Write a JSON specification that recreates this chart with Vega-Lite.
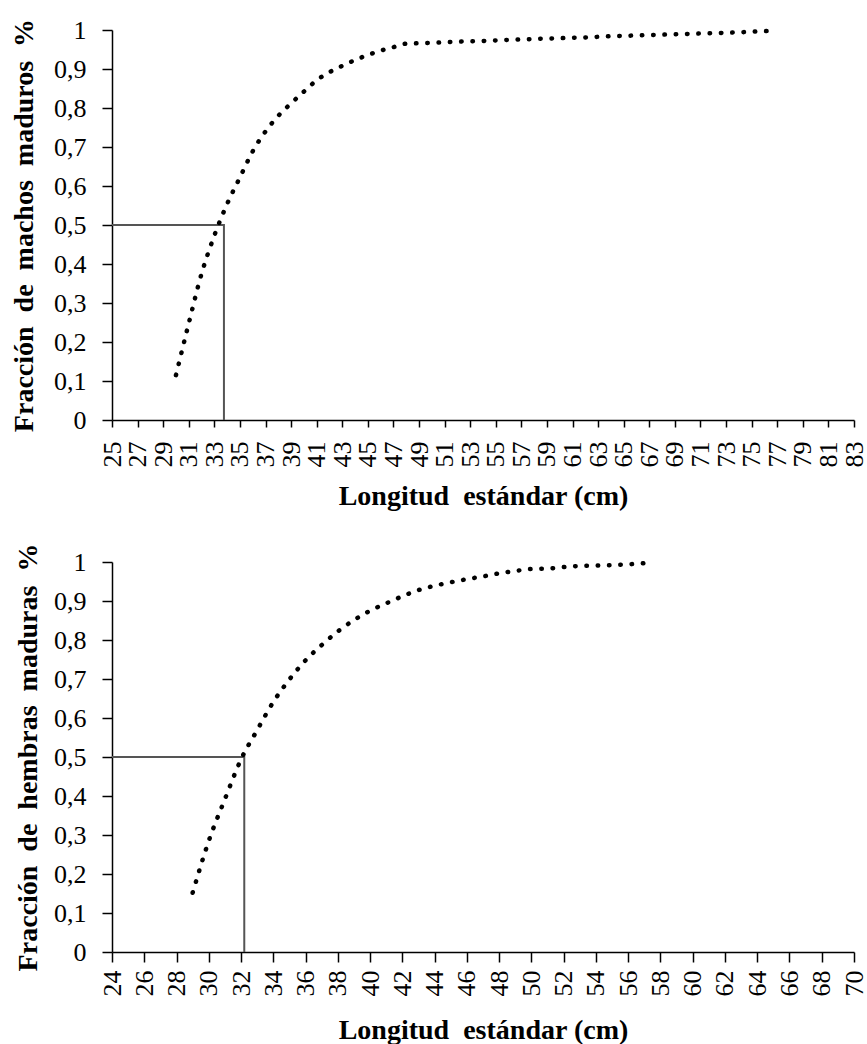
{
  "$schema": "https://vega.github.io/schema/vega-lite/v6.json",
  "padding": {"left": 10, "top": 17, "right": 0, "bottom": 0},
  "spacing": 33,
  "config": {
    "font": "Liberation Serif",
    "view": {"stroke": null},
    "axis": {
      "grid": false,
      "domainColor": "#000000",
      "domainWidth": 1.5,
      "tickColor": "#000000",
      "tickWidth": 1.5,
      "tickSize": 10,
      "labelFont": "Liberation Serif",
      "labelFontSize": 26,
      "labelColor": "#000000",
      "labelOverlap": false,
      "titleFont": "Liberation Serif",
      "titleFontSize": 28,
      "titleFontWeight": "bold",
      "titleColor": "#000000"
    }
  },
  "datasets": {
    "machos": [
      {"longitud": 30, "fraccion": 0.115}, {"longitud": 31, "fraccion": 0.248}, {"longitud": 32, "fraccion": 0.375},
      {"longitud": 33, "fraccion": 0.473}, {"longitud": 34, "fraccion": 0.554}, {"longitud": 35, "fraccion": 0.622},
      {"longitud": 36, "fraccion": 0.689}, {"longitud": 37, "fraccion": 0.74}, {"longitud": 38, "fraccion": 0.78},
      {"longitud": 39, "fraccion": 0.812}, {"longitud": 40, "fraccion": 0.842}, {"longitud": 41, "fraccion": 0.871},
      {"longitud": 42, "fraccion": 0.892}, {"longitud": 43, "fraccion": 0.908}, {"longitud": 44, "fraccion": 0.923},
      {"longitud": 45, "fraccion": 0.936}, {"longitud": 46, "fraccion": 0.947}, {"longitud": 47, "fraccion": 0.956},
      {"longitud": 48, "fraccion": 0.965}, {"longitud": 49, "fraccion": 0.966}, {"longitud": 50, "fraccion": 0.967},
      {"longitud": 52, "fraccion": 0.97}, {"longitud": 54, "fraccion": 0.972}, {"longitud": 56, "fraccion": 0.9745},
      {"longitud": 58, "fraccion": 0.977}, {"longitud": 60, "fraccion": 0.979}, {"longitud": 62, "fraccion": 0.981},
      {"longitud": 64, "fraccion": 0.984}, {"longitud": 66, "fraccion": 0.986}, {"longitud": 68, "fraccion": 0.988},
      {"longitud": 70, "fraccion": 0.99}, {"longitud": 72, "fraccion": 0.992}, {"longitud": 74, "fraccion": 0.994},
      {"longitud": 76, "fraccion": 0.997}, {"longitud": 77, "fraccion": 0.998}
    ],
    "machos_ref": [
      {"orden": 1, "longitud": 25, "fraccion": 0.5},
      {"orden": 2, "longitud": 33.75, "fraccion": 0.5},
      {"orden": 3, "longitud": 33.75, "fraccion": 0}
    ],
    "hembras": [
      {"longitud": 29, "fraccion": 0.152}, {"longitud": 30, "fraccion": 0.285}, {"longitud": 31, "fraccion": 0.392},
      {"longitud": 32, "fraccion": 0.494}, {"longitud": 33, "fraccion": 0.569}, {"longitud": 34, "fraccion": 0.641},
      {"longitud": 35, "fraccion": 0.699}, {"longitud": 36, "fraccion": 0.748}, {"longitud": 37, "fraccion": 0.787},
      {"longitud": 38, "fraccion": 0.822}, {"longitud": 39, "fraccion": 0.851}, {"longitud": 40, "fraccion": 0.875},
      {"longitud": 41, "fraccion": 0.894}, {"longitud": 42, "fraccion": 0.912}, {"longitud": 43, "fraccion": 0.928},
      {"longitud": 44, "fraccion": 0.939}, {"longitud": 45, "fraccion": 0.948}, {"longitud": 46, "fraccion": 0.956},
      {"longitud": 47, "fraccion": 0.963}, {"longitud": 48, "fraccion": 0.971}, {"longitud": 49, "fraccion": 0.977},
      {"longitud": 50, "fraccion": 0.982}, {"longitud": 51, "fraccion": 0.983}, {"longitud": 52, "fraccion": 0.987},
      {"longitud": 53, "fraccion": 0.99}, {"longitud": 54, "fraccion": 0.991}, {"longitud": 55, "fraccion": 0.992},
      {"longitud": 56, "fraccion": 0.994}, {"longitud": 57, "fraccion": 0.997}
    ],
    "hembras_ref": [
      {"orden": 1, "longitud": 24, "fraccion": 0.5},
      {"orden": 2, "longitud": 32.2, "fraccion": 0.5},
      {"orden": 3, "longitud": 32.2, "fraccion": 0}
    ]
  },
  "vconcat": [
    {
      "width": 742,
      "height": 390,
      "encoding": {
        "x": {
          "field": "longitud", "type": "quantitative",
          "scale": {"domain": [25, 83], "nice": false, "zero": false},
          "axis": {
            "title": "Longitud\u00a0\u00a0estándar (cm)",
            "values": [25,27,29,31,33,35,37,39,41,43,45,47,49,51,53,55,57,59,61,63,65,67,69,71,73,75,77,79,81,83],
            "labelAngle": -90,
            "tickSize": 7,
            "labelPadding": 14,
            "titlePadding": 15,
            "labelOverlap": false
          }
        },
        "y": {
          "field": "fraccion", "type": "quantitative",
          "scale": {"domain": [0, 1], "nice": false},
          "axis": {
            "title": "Fracción\u00a0\u00a0de\u00a0\u00a0machos\u00a0\u00a0maduros\u00a0\u00a0%",
            "values": [0,0.1,0.2,0.3,0.4,0.5,0.6,0.7,0.8,0.9,1],
            "format": ".1~f",
            "labelExpr": "replace(datum.label, '.', ',')",
            "labelPadding": 16,
            "titlePadding": 15,
            "labelOverlap": false
          }
        }
      },
      "layer": [
        {
          "data": {"name": "machos_ref"},
          "mark": {"type": "line", "color": "#555555", "strokeWidth": 2},
          "encoding": {"order": {"field": "orden"}}
        },
        {
          "data": {"name": "machos"},
          "mark": {"type": "line", "color": "#000000", "strokeWidth": 4.5, "strokeCap": "round", "strokeDash": [0.5, 10.8], "interpolate": "monotone"},
          "encoding": {}
        }
      ]
    },
    {
      "width": 742,
      "height": 390,
      "encoding": {
        "x": {
          "field": "longitud", "type": "quantitative",
          "scale": {"domain": [24, 70], "nice": false, "zero": false},
          "axis": {
            "title": "Longitud\u00a0\u00a0estándar (cm)",
            "values": [24,26,28,30,32,34,36,38,40,42,44,46,48,50,52,54,56,58,60,62,64,66,68,70],
            "labelAngle": -90,
            "labelPadding": 8,
            "titlePadding": 20,
            "labelOverlap": false
          }
        },
        "y": {
          "field": "fraccion", "type": "quantitative",
          "scale": {"domain": [0, 1], "nice": false},
          "axis": {
            "title": "Fracción\u00a0\u00a0de\u00a0\u00a0hembras\u00a0\u00a0maduras\u00a0\u00a0%",
            "values": [0,0.1,0.2,0.3,0.4,0.5,0.6,0.7,0.8,0.9,1],
            "format": ".1~f",
            "labelExpr": "replace(datum.label, '.', ',')",
            "labelPadding": 16,
            "titlePadding": 11,
            "labelOverlap": false
          }
        }
      },
      "layer": [
        {
          "data": {"name": "hembras_ref"},
          "mark": {"type": "line", "color": "#555555", "strokeWidth": 2},
          "encoding": {"order": {"field": "orden"}}
        },
        {
          "data": {"name": "hembras"},
          "mark": {"type": "line", "color": "#000000", "strokeWidth": 4.5, "strokeCap": "round", "strokeDash": [0.5, 10.8], "interpolate": "monotone"},
          "encoding": {}
        }
      ]
    }
  ]
}
